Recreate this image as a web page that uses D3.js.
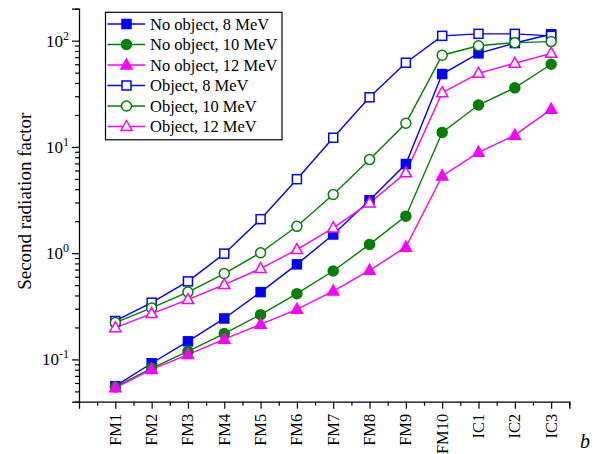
<!DOCTYPE html>
<html>
<head>
<meta charset="utf-8">
<script src="https://cdn.jsdelivr.net/npm/d3@7"></script>
<style>
  body { margin: 0; background: #fff; }
  text { font-family: "Liberation Serif", "Times New Roman", serif; }
</style>
</head>
<body>
<div id="plot"></div>
<script>
// categories along x
var categories = ["FM1", "FM2", "FM3", "FM4", "FM5", "FM6", "FM7", "FM8", "FM9", "FM10", "IC1", "IC2", "IC3"];

// series values
var noObj8  = [0.056, 0.092, 0.148, 0.243, 0.43, 0.785, 1.50, 3.15, 6.9, 48.5, 76, 95, 115];
var noObj10 = [0.055, 0.083, 0.119, 0.175, 0.264, 0.416, 0.68, 1.21, 2.23, 13.7, 24.8, 36, 60];
var noObj12 = [0.054, 0.0805, 0.111, 0.155, 0.214, 0.296, 0.44, 0.69, 1.14, 5.34, 8.9, 12.9, 22.6];
var obj8    = [0.23, 0.342, 0.543, 0.99, 2.09, 4.97, 12.2, 29.3, 62, 111, 116, 116, 111];
var obj10   = [0.222, 0.305, 0.43, 0.643, 1.01, 1.79, 3.57, 7.6, 16.7, 73, 89.7, 95.8, 98];
var obj12   = [0.199, 0.27, 0.366, 0.506, 0.716, 1.08, 1.73, 2.97, 5.7, 32.4, 49.3, 61.3, 76];

var seriesNames = ["No object, 8 MeV", "No object, 10 MeV", "No object, 12 MeV",
                   "Object, 8 MeV", "Object, 10 MeV", "Object, 12 MeV"];
var yTickExps = [-1, 0, 1, 2];

var series = [
  {name: seriesNames[0], values: noObj8,  color: "#0000ff", shape: "square",   filled: true},
  {name: seriesNames[1], values: noObj10, color: "#008000", shape: "circle",   filled: true},
  {name: seriesNames[2], values: noObj12, color: "#ff00ff", shape: "triangle", filled: true},
  {name: seriesNames[3], values: obj8,    color: "#0000ff", shape: "square",   filled: false},
  {name: seriesNames[4], values: obj10,   color: "#008000", shape: "circle",   filled: false},
  {name: seriesNames[5], values: obj12,   color: "#ff00ff", shape: "triangle", filled: false}
];

var svg = d3.select("div#plot")
  .append("svg")
  .attr("width", 599)
  .attr("height", 454);

var pLeft = 79, pRight = 569.3, pTop = 8.7, pBottom = 401.7;

var x = d3.scaleLinear().domain([0, 13.5]).range([pLeft, pRight]);
var y = d3.scaleLog().domain([0.04, 200]).range([pBottom, pTop]);

// axes
var xAxis = d3.axisBottom(x)
  .tickValues(d3.range(1, 14))
  .tickSize(7)
  .tickFormat("");
var xMinor = d3.axisBottom(x)
  .tickValues(d3.range(0.5, 14, 1))
  .tickSize(4)
  .tickFormat("");

svg.append("g").attr("transform", "translate(0," + pBottom + ")").call(xAxis);
svg.append("g").attr("transform", "translate(0," + pBottom + ")").call(xMinor)
  .select(".domain").remove();

var minorY = [];
[0.01, 0.1, 1, 10, 100].forEach(function(dec) {
  for (var k = 2; k <= 9; k++) {
    var v = dec * k;
    if (v >= 0.04 && v <= 200) minorY.push(v);
  }
});

var yAxis = d3.axisLeft(y)
  .tickValues(yTickExps.map(function(e) { return Math.pow(10, e); }))
  .tickSize(7)
  .tickFormat("");
var yMinor = d3.axisLeft(y)
  .tickValues(minorY)
  .tickSize(4)
  .tickFormat("");

svg.append("g").attr("transform", "translate(" + pLeft + ",0)").call(yAxis);
svg.append("g").attr("transform", "translate(" + pLeft + ",0)").call(yMinor)
  .select(".domain").remove();

svg.selectAll(".domain").attr("stroke", "#000").attr("stroke-width", 1.3);
svg.selectAll(".tick line").attr("stroke", "#000").attr("stroke-width", 1.2);

// x tick labels, rotated
svg.selectAll(".xlab")
  .data(categories)
  .enter().append("text")
  .attr("class", "xlab")
  .attr("transform", function(d, i) { return "translate(" + x(i + 1) + "," + (pBottom + 12) + ") rotate(-90)"; })
  .attr("text-anchor", "end")
  .attr("dy", "0.33em")
  .attr("font-size", 16.5)
  .attr("fill", "#000")
  .text(function(d) { return d; });

// y tick labels 10^n
var ylab = svg.selectAll(".ylab")
  .data(yTickExps)
  .enter().append("text")
  .attr("class", "ylab")
  .attr("x", 69)
  .attr("y", function(d) { return y(Math.pow(10, d)) + 6; })
  .attr("text-anchor", "end")
  .attr("font-size", 17)
  .attr("fill", "#000")
  .text("10");
ylab.append("tspan")
  .attr("dy", -7)
  .attr("font-size", 12)
  .text(function(d) { return d; });

// y axis title
svg.append("text")
  .attr("transform", "translate(31," + ((pTop + pBottom) / 2 - 4) + ") rotate(-90)")
  .attr("text-anchor", "middle")
  .attr("font-size", 19)
  .attr("fill", "#000")
  .text("Second radiation factor");

// corner label
svg.append("text")
  .attr("x", 580)
  .attr("y", 448)
  .attr("font-size", 20)
  .attr("font-style", "italic")
  .attr("fill", "#000")
  .text("b");

function marker(g, s) {
  var fill = s.filled ? s.color : "#fff";
  if (s.shape === "square") {
    g.append("rect")
      .attr("x", -4.5).attr("y", -4.5).attr("width", 9).attr("height", 9)
      .attr("fill", fill).attr("stroke", s.color).attr("stroke-width", 1.5);
  } else if (s.shape === "circle") {
    g.append("circle")
      .attr("r", 5)
      .attr("fill", fill).attr("stroke", s.color).attr("stroke-width", 1.5);
  } else {
    g.append("path")
      .attr("d", "M0,-6L5.6,4L-5.6,4Z")
      .attr("fill", fill).attr("stroke", s.color).attr("stroke-width", 1.5);
  }
}

var line = d3.line()
  .x(function(d, i) { return x(i + 1); })
  .y(function(d) { return y(d); });

// lines first, then markers, in series order
series.forEach(function(s) {
  svg.append("path")
    .datum(s.values)
    .attr("d", line)
    .attr("fill", "none")
    .attr("stroke", s.color)
    .attr("stroke-width", 1.4);
});
series.forEach(function(s) {
  s.values.forEach(function(v, i) {
    var g = svg.append("g").attr("transform", "translate(" + x(i + 1) + "," + y(v) + ")");
    marker(g, s);
  });
});

// legend
var lg = svg.append("g");
lg.append("rect")
  .attr("x", 105.5).attr("y", 12.3)
  .attr("width", 176.5).attr("height", 127.5)
  .attr("fill", "#fff").attr("stroke", "#000").attr("stroke-width", 1.2);

series.forEach(function(s, i) {
  var ly = 24 + i * 20.5;
  lg.append("line")
    .attr("x1", 107.5).attr("x2", 145)
    .attr("y1", ly).attr("y2", ly)
    .attr("stroke", s.color).attr("stroke-width", 1.4);
  var g = lg.append("g").attr("transform", "translate(126.5," + ly + ")");
  marker(g, s);
  lg.append("text")
    .attr("x", 150)
    .attr("y", ly + 5.5)
    .attr("font-size", 16.5)
    .attr("fill", "#000")
    .text(s.name);
});
</script>
</body>
</html>
